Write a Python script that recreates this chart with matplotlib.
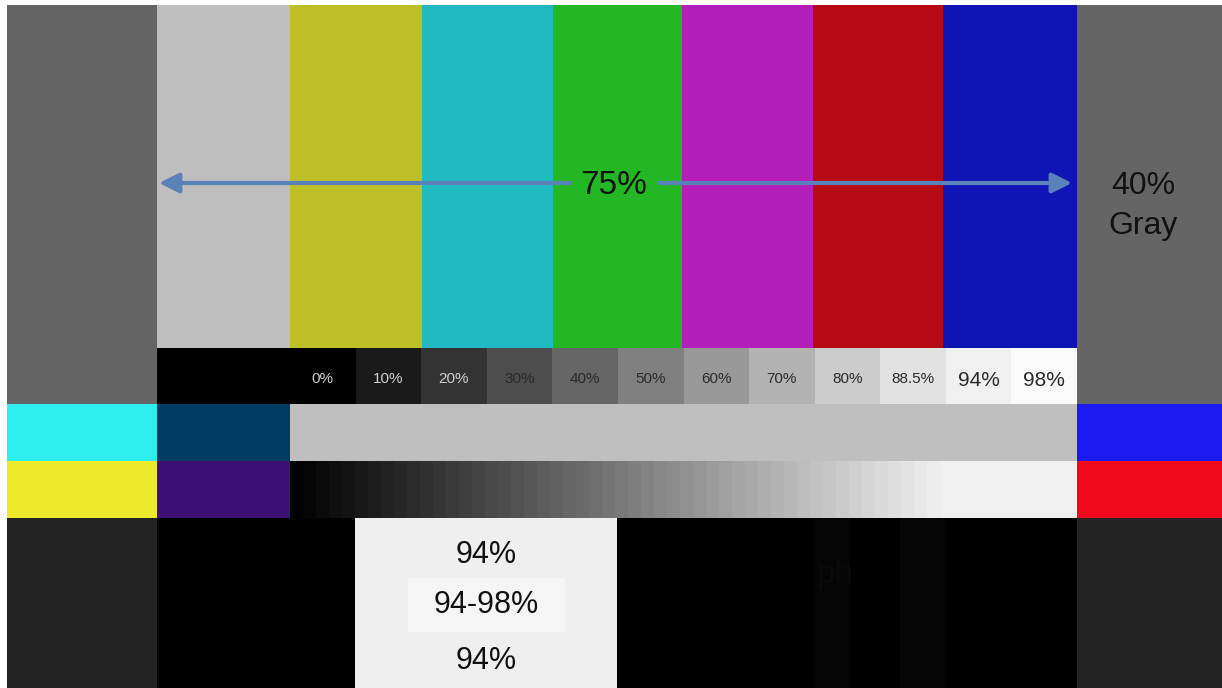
import numpy as np
import matplotlib.pyplot as plt

plt.rcParams['font.family'] = ['Liberation Sans', 'DejaVu Sans']

# 75% colour bars, left to right (outer columns are 40% gray)
bar_colors = ['#646464', '#bebebe', '#bfbf27', '#22bac1', '#23b823',
              '#b41fba', '#b60b15', '#0f14b5', '#656565']
bar_edges = [7, 157, 290, 422, 553, 682, 813, 943, 1077, 1222]

# gray step row
step_labels = ['0%', '10%', '20%', '30%', '40%', '50%', '60%', '70%',
               '80%', '88.5%', '94%', '98%']
step_levels = [0, 10, 20, 30, 40, 50, 60, 70, 80, 88.5, 94, 98]

# second and third rows: (left, right, colour)
row2 = [(7, 157, '#2eeded'), (157, 290, '#003b64'),
        (290, 1077, '#bfbfbf'), (1077, 1222, '#1a1af0')]
row3 = [(7, 157, '#ebeb2c'), (157, 290, '#3b0f73'),
        (940, 1077, '#f0f0f0'), (1077, 1222, '#ee0a1a')]
ramp_steps = 50

# bottom row
bottom = [(7, 157, '#232323'), (157, 355, '#000000'), (355, 617, '#efefef'),
          (617, 1077, '#000000'), (1077, 1222, '#232323')]
pluge = [(815, 850, '#050505'), (900, 945, '#050505')]
box_labels = ['94%', '94-98%', '94%']

fig = plt.figure(figsize=(12.22, 6.88), dpi=100)
ax = fig.add_axes([0, 0, 1, 1])
ax.set_xlim(0, 1222)
ax.set_ylim(688, 0)
ax.axis('off')

y0, y1, y2, y3, y4 = 5, 348, 404, 461, 518

# top bars
for i, c in enumerate(bar_colors):
    top_h = (y2 if i in (0, len(bar_colors) - 1) else y1) - y0
    ax.bar(bar_edges[i], top_h, width=bar_edges[i + 1] - bar_edges[i],
           bottom=y0, align='edge', color=c, linewidth=0)

# gray steps
ax.bar(157, y2 - y1, width=133, bottom=y1, align='edge', color='black', linewidth=0)
sw = (1077 - 290) / len(step_levels)
for i, (lab, lv) in enumerate(zip(step_labels, step_levels)):
    g = lv / 100
    x = 290 + i * sw
    ax.bar(x, y2 - y1, width=sw, bottom=y1, align='edge', color=(g, g, g), linewidth=0)
    big = lab in ('94%', '98%')
    ax.text(x + sw / 2, 380 if big else 379, lab, ha='center', va='center',
            fontsize=15 if big else 11,
            color='#d0d0d0' if lv < 25 else '#2a2a2a')

# row 2
for l, r, c in row2:
    ax.bar(l, y3 - y2, width=r - l, bottom=y2, align='edge', color=c, linewidth=0)

# row 3 with stepped ramp
for l, r, c in row3:
    ax.bar(l, y4 - y3, width=r - l, bottom=y3, align='edge', color=c, linewidth=0)
rw = (940 - 290) / ramp_steps
for k, g in enumerate(np.linspace(0.0, 0.93, ramp_steps)):
    ax.bar(290 + k * rw, y4 - y3, width=rw + 0.5, bottom=y3, align='edge',
           color=(g, g, g), linewidth=0)

# bottom row
for l, r, c in bottom:
    ax.bar(l, 688 - y4, width=r - l, bottom=y4, align='edge', color=c, linewidth=0)
for l, r, c in pluge:
    ax.bar(l, 688 - y4, width=r - l, bottom=y4, align='edge', color=c, linewidth=0)
ax.bar(408, 54, width=157, bottom=578, align='edge', color='#f5f5f5', linewidth=0)
for lab, y in zip(box_labels, [555, 605, 661]):
    ax.text(486, y, lab, ha='center', va='center', fontsize=22, color='#111111')
ax.text(835, 575, 'ph', ha='center', va='center', fontsize=24, color='#0a0a0a')

# 75% arrow
ax.annotate('', xy=(159, 183), xytext=(1072, 183),
            arrowprops=dict(arrowstyle='<|-|>,head_length=1.2,head_width=0.6',
                            color='#5b82b8', lw=3, shrinkA=0, shrinkB=0))
ax.text(614, 185, '75%', ha='center', va='center', fontsize=24, color='#111111',
        bbox=dict(boxstyle='square,pad=0.3', facecolor='#23b823', edgecolor='none'))

ax.text(1143, 186, '40%', ha='center', va='center', fontsize=23, color='#111111')
ax.text(1143, 226, 'Gray', ha='center', va='center', fontsize=23, color='#111111')

fig.savefig('out.png', dpi=100, facecolor='white')
